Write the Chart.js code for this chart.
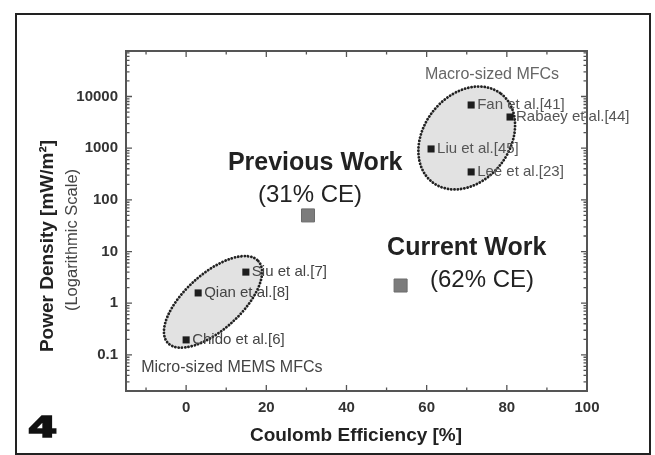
<!DOCTYPE html>
<html>
<head>
<meta charset="utf-8">
<script src="https://cdn.jsdelivr.net/npm/chart.js@4.4.1/dist/chart.umd.min.js"></script>
<style>
  html, body { margin: 0; padding: 0; background: #fff; }
  #wrap { width: 655px; height: 455px; }
</style>
</head>
<body>
<div id="wrap"><canvas id="fig" width="655" height="455"></canvas></div>
<script>
// reported MFCs from the literature
const refLabels = ['Chido et al.[6]', 'Qian et al.[8]', 'Siu et al.[7]', 'Liu et al.[45]', 'Fan et al.[41]', 'Lee et al.[23]', 'Rabaey et al.[44]'];
const refCE = [0, 3, 14.9, 61.1, 71.1, 71.1, 80.8];
const refPower = [0.195, 1.58, 4.0, 966, 6850, 347, 4010];

// previous / current work
const workCE = [30.4, 53.5];
const workPower = [50, 2.2];

const xTicks = [0, 20, 40, 60, 80, 100];
const yTicks = [0.1, 1, 10, 100, 1000, 10000];

const FONT = "'Liberation Sans', Arial, sans-serif";

// ellipses, notes, frame, inward ticks, titles
const overlay = {
  id: 'overlay',
  beforeDatasetsDraw(chart, args, opts) {
    const { ctx, scales: { x, y } } = chart;
    opts.ellipses.forEach(e => {
      ctx.save();
      ctx.translate(x.getPixelForValue(e.ce), y.getPixelForValue(e.power));
      ctx.rotate(e.angle * Math.PI / 180);
      ctx.beginPath();
      ctx.ellipse(0, 0, e.rx, e.ry, 0, 0, Math.PI * 2);
      ctx.fillStyle = '#e2e2e2';
      ctx.fill();
      ctx.setLineDash([0.1, 3.2]);
      ctx.lineCap = 'round';
      ctx.lineWidth = 2.8;
      ctx.strokeStyle = '#222';
      ctx.stroke();
      ctx.restore();
    });
  },
  afterDatasetsDraw(chart, args, opts) {
    const { ctx, scales: { x, y } } = chart;
    ctx.save();
    ctx.textBaseline = 'middle';
    // labels next to literature points
    const meta = chart.getDatasetMeta(0);
    ctx.textAlign = 'left';
    ctx.font = '15px ' + FONT;
    meta.data.forEach((pt, i) => {
      ctx.fillStyle = refPower[i] > 100 ? '#555' : '#444';
      ctx.fillText(refLabels[i], pt.x + 6, pt.y);
    });
    // notes
    ctx.textAlign = 'center';
    opts.notes.forEach(n => {
      ctx.font = n.font;
      ctx.fillStyle = n.color;
      ctx.fillText(n.text, x.getPixelForValue(n.ce), y.getPixelForValue(n.power));
    });
    ctx.restore();
  },
  afterDraw(chart) {
    const { ctx, chartArea: a, scales: { x, y } } = chart;
    ctx.save();
    // outer figure frame
    ctx.strokeStyle = '#222';
    ctx.lineWidth = 2;
    ctx.strokeRect(16, 14, 634, 440);

    // plot frame
    ctx.strokeStyle = '#555';
    ctx.lineWidth = 2;
    ctx.strokeRect(a.left, a.top, a.right - a.left, a.bottom - a.top);

    // inward ticks
    ctx.lineWidth = 1.3;
    ctx.beginPath();
    for (let v = -10; v <= 100; v += 10) {
      const px = x.getPixelForValue(v);
      const len = v % 20 === 0 ? 6 : 3.5;
      ctx.moveTo(px, a.bottom); ctx.lineTo(px, a.bottom - len);
      ctx.moveTo(px, a.top); ctx.lineTo(px, a.top + len);
    }
    for (let e = -2; e <= 4; e++) {
      for (let m = 1; m <= 9; m++) {
        const v = m * Math.pow(10, e);
        if (v < y.min || v > y.max) continue;
        const py = y.getPixelForValue(v);
        const len = m === 1 ? 6 : 3.5;
        ctx.moveTo(a.left, py); ctx.lineTo(a.left + len, py);
        ctx.moveTo(a.right, py); ctx.lineTo(a.right - len, py);
      }
    }
    ctx.stroke();

    // axis titles
    ctx.fillStyle = '#222';
    ctx.textAlign = 'center';
    ctx.textBaseline = 'middle';
    ctx.font = 'bold 19px ' + FONT;
    ctx.fillText('Coulomb Efficiency [%]', 356, 436);
    ctx.save();
    ctx.translate(48, 246);
    ctx.rotate(-Math.PI / 2);
    ctx.fillText('Power Density [mW/m²]', 0, 0);
    ctx.restore();
    ctx.save();
    ctx.translate(72, 240);
    ctx.rotate(-Math.PI / 2);
    ctx.font = '16.5px ' + FONT;
    ctx.fillStyle = '#444';
    ctx.fillText('(Logarithmic Scale)', 0, 0);
    ctx.restore();

    // panel number
    ctx.save();
    ctx.translate(28, 437);
    ctx.scale(1.45, 1);
    ctx.textAlign = 'left';
    ctx.textBaseline = 'alphabetic';
    ctx.font = "bold 29px 'DejaVu Sans', sans-serif";
    ctx.fillStyle = '#111';
    ctx.strokeStyle = '#111';
    ctx.lineWidth = 1.6;
    ctx.lineJoin = 'miter';
    ctx.fillText('4', 0, 0);
    ctx.strokeText('4', 0, 0);
    ctx.restore();
    ctx.restore();
  }
};

new Chart(document.getElementById('fig'), {
  type: 'scatter',
  data: {
    datasets: [{
      label: 'Reported MFCs',
      data: refCE.map((v, i) => ({ x: v, y: refPower[i] })),
      pointStyle: 'rect',
      pointRadius: 5,
      backgroundColor: '#1e1e1e',
      borderColor: '#1e1e1e',
      borderWidth: 0
    }, {
      label: 'This work',
      data: workCE.map((v, i) => ({ x: v, y: workPower[i] })),
      pointStyle: 'rect',
      pointRadius: 9.2,
      backgroundColor: '#7c7c7c',
      borderColor: '#6c6c6c',
      borderWidth: 1
    }]
  },
  options: {
    responsive: false,
    animation: false,
    layout: { padding: { top: 51, right: 68, left: 0, bottom: 0 } },
    plugins: {
      legend: { display: false },
      tooltip: { enabled: false },
      overlay: {
        ellipses: [
          { ce: 6.7, power: 1.06, rx: 61, ry: 28, angle: -42 },
          { ce: 70.0, power: 1575, rx: 56, ry: 43, angle: -52 }
        ],
        notes: [
          { text: 'Previous Work', ce: 32.2, power: 518, font: 'bold 25px ' + FONT, color: '#222' },
          { text: '(31% CE)', ce: 30.9, power: 124, font: '24px ' + FONT, color: '#222' },
          { text: 'Current Work', ce: 70.0, power: 11.7, font: 'bold 25px ' + FONT, color: '#222' },
          { text: '(62% CE)', ce: 73.8, power: 2.82, font: '24px ' + FONT, color: '#222' },
          { text: 'Macro-sized MFCs', ce: 76.3, power: 26000, font: '16px ' + FONT, color: '#666' },
          { text: 'Micro-sized MEMS MFCs', ce: 11.4, power: 0.056, font: '16px ' + FONT, color: '#444' }
        ]
      }
    },
    scales: {
      x: {
        type: 'linear',
        min: -15,
        max: 100,
        grid: { display: false, drawTicks: false },
        border: { display: false },
        afterFit: s => { s.height = 64; },
        afterBuildTicks: s => { s.ticks = xTicks.map(v => ({ value: v })); },
        ticks: {
          autoSkip: false,
          maxRotation: 0,
          padding: 8,
          color: '#333',
          font: { family: FONT, size: 15, weight: 'bold' }
        }
      },
      y: {
        type: 'logarithmic',
        min: 0.02,
        max: 76000,
        grid: { display: false, drawTicks: false },
        border: { display: false },
        afterFit: s => { s.width = 126; },
        afterBuildTicks: s => { s.ticks = yTicks.map(v => ({ value: v })); },
        ticks: {
          autoSkip: false,
          padding: 8,
          color: '#333',
          font: { family: FONT, size: 15, weight: 'bold' },
          callback: v => String(v)
        }
      }
    }
  },
  plugins: [overlay]
});
</script>
</body>
</html>
